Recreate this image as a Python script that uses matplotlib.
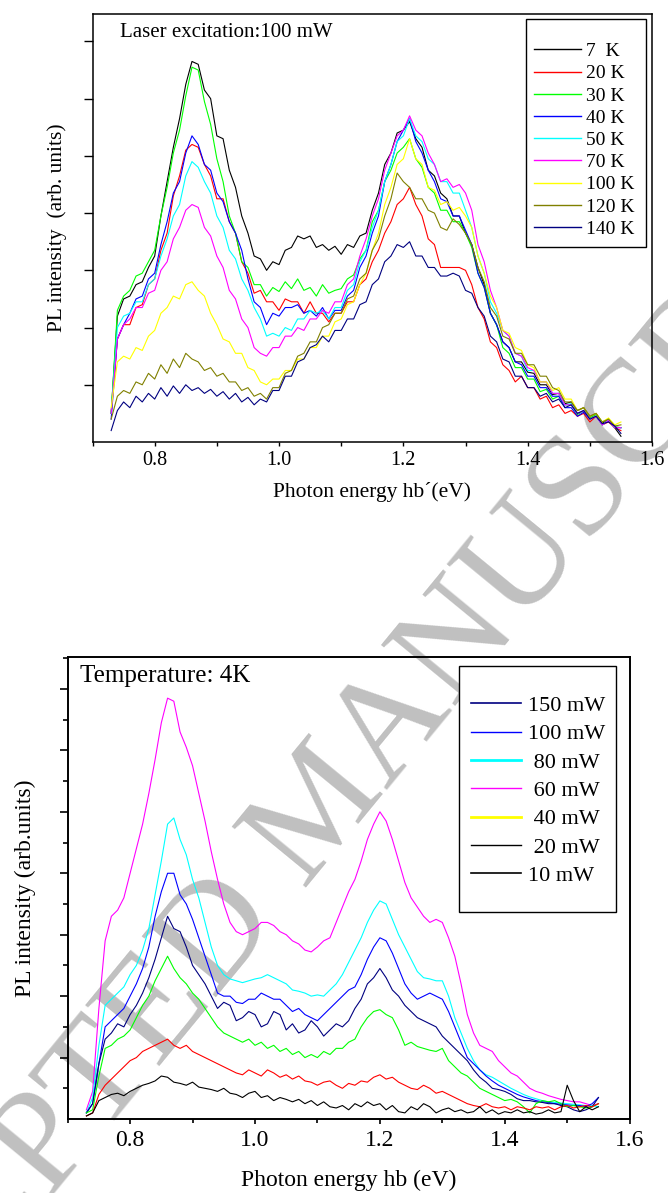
import matplotlib
matplotlib.use('Agg')
import matplotlib.pyplot as plt
from matplotlib.lines import Line2D
from matplotlib.patches import Rectangle

plt.rcParams['font.family'] = 'Liberation Serif'

# photon energy grid (eV)
energy = [0.73, 0.74, 0.75, 0.76, 0.77, 0.78, 0.79, 0.80, 0.81, 0.82,
          0.83, 0.84, 0.85, 0.86, 0.87, 0.88, 0.89, 0.90, 0.91, 0.92,
          0.93, 0.94, 0.95, 0.96, 0.97, 0.98, 0.99, 1.00, 1.01, 1.02,
          1.03, 1.04, 1.05, 1.06, 1.07, 1.08, 1.09, 1.10, 1.11, 1.12,
          1.13, 1.14, 1.15, 1.16, 1.17, 1.18, 1.19, 1.20, 1.21, 1.22,
          1.23, 1.24, 1.25, 1.26, 1.27, 1.28, 1.29, 1.30, 1.31, 1.32,
          1.33, 1.34, 1.35, 1.36, 1.37, 1.38, 1.39, 1.40, 1.41, 1.42,
          1.43, 1.44, 1.45, 1.46, 1.47, 1.48, 1.49, 1.50, 1.51, 1.52,
          1.53, 1.54, 1.55]

# ---- top panel: temperature series at 100 mW ----
temp_labels = ['7  K', '20 K', '30 K', '40 K', '50 K', '70 K', '100 K', '120 K', '140 K']
temp_colors = ['black', '#ff0000', '#00ff00', '#0000ff', '#00ffff', '#ff00ff', '#ffff00', '#808000', '#000080']

pl_7K = [0.5, 2.2, 2.5, 2.55, 2.75, 2.8, 3.05, 3.25, 3.95, 4.55,
         5.15, 5.65, 6.25, 6.65, 6.6, 6.15, 6.0, 5.35, 5.3, 4.75,
         4.45, 3.95, 3.65, 3.25, 3.2, 3.0, 3.15, 3.1, 3.35, 3.4,
         3.6, 3.55, 3.6, 3.4, 3.45, 3.35, 3.42, 3.28, 3.45, 3.4,
         3.6, 3.65, 4.05, 4.35, 4.85, 5.05, 5.4, 5.45, 5.6, 5.3,
         5.15, 4.75, 4.65, 4.35, 4.25, 3.95, 3.95, 3.65, 3.45, 3.05,
         2.75, 2.25, 2.05, 1.75, 1.65, 1.4, 1.4, 1.22, 1.2, 1.0,
         1.0, 0.83, 0.85, 0.67, 0.7, 0.55, 0.6, 0.45, 0.5, 0.33,
         0.4, 0.25, 0.1]
pl_20K = [0.5, 1.8, 2.05, 2.05, 2.35, 2.4, 2.75, 2.85, 3.35, 3.65,
          4.3, 4.65, 5.1, 5.2, 5.15, 4.85, 4.65, 4.25, 4.25, 3.85,
          3.65, 3.15, 2.95, 2.6, 2.65, 2.45, 2.45, 2.3, 2.5, 2.45,
          2.45, 2.25, 2.45, 2.25, 2.25, 2.1, 2.25, 2.25, 2.45, 2.45,
          2.75, 2.85, 3.15, 3.35, 3.65, 3.85, 4.15, 4.25, 4.45, 4.15,
          3.95, 3.55, 3.45, 3.05, 3.05, 3.05, 3.05, 3.0, 2.75, 2.35,
          2.15, 1.75, 1.65, 1.35, 1.25, 1.05, 1.15, 0.95, 0.95, 0.75,
          0.8, 0.6, 0.65, 0.5, 0.55, 0.45, 0.5, 0.35, 0.45, 0.3,
          0.35, 0.25, 0.2]
pl_30K = [0.5, 2.3, 2.55, 2.65, 2.9, 2.95, 3.15, 3.35, 3.95, 4.45,
          5.05, 5.45, 6.05, 6.55, 6.5, 5.95, 5.55, 4.95, 4.55, 3.95,
          3.65, 3.15, 3.05, 2.75, 2.75, 2.55, 2.7, 2.63, 2.8, 2.68,
          2.85, 2.65, 2.7, 2.55, 2.75, 2.6, 2.65, 2.68, 2.85, 2.92,
          3.2, 3.35, 3.85, 4.05, 4.55, 4.75, 5.05, 5.15, 5.3, 4.95,
          4.8, 4.45, 4.35, 4.05, 4.05, 3.85, 3.85, 3.65, 3.4, 2.95,
          2.7, 2.25, 2.05, 1.65, 1.55, 1.3, 1.3, 1.1, 1.1, 0.88,
          0.92, 0.75, 0.8, 0.65, 0.65, 0.48, 0.55, 0.42, 0.48, 0.35,
          0.4, 0.27, 0.25]
pl_40K = [0.4, 1.8, 2.05, 2.25, 2.5, 2.55, 2.85, 2.95, 3.45, 3.85,
          4.35, 4.55, 5.05, 5.35, 5.2, 4.85, 4.75, 4.35, 4.2, 3.85,
          3.65, 3.35, 2.85, 2.45, 2.35, 2.05, 2.25, 2.2, 2.35, 2.35,
          2.4, 2.25, 2.3, 2.2, 2.35, 2.15, 2.3, 2.3, 2.55, 2.65,
          3.05, 3.25, 3.65, 3.95, 4.55, 4.85, 5.25, 5.45, 5.65, 5.25,
          5.05, 4.75, 4.55, 4.25, 4.2, 3.95, 3.95, 3.7, 3.45, 2.95,
          2.7, 2.25, 2.05, 1.75, 1.65, 1.4, 1.35, 1.15, 1.15, 0.95,
          0.95, 0.8, 0.8, 0.6, 0.6, 0.45, 0.52, 0.4, 0.45, 0.3,
          0.37, 0.25, 0.25]
pl_50K = [0.5, 2.0, 2.2, 2.25, 2.45, 2.45, 2.75, 2.85, 3.25, 3.55,
          3.95, 4.15, 4.65, 4.9, 4.8, 4.55, 4.35, 3.95, 3.75, 3.35,
          3.2, 2.85, 2.65, 2.35, 2.15, 1.85, 1.9, 1.85, 2.0, 1.95,
          2.15, 2.15, 2.3, 2.25, 2.3, 2.15, 2.35, 2.35, 2.65, 2.75,
          3.15, 3.35, 3.75, 4.05, 4.55, 4.85, 5.25, 5.35, 5.65, 5.35,
          5.25, 4.95, 4.85, 4.55, 4.55, 4.35, 4.35, 4.05, 3.75, 3.25,
          2.95, 2.45, 2.25, 1.95, 1.85, 1.55, 1.5, 1.25, 1.25, 1.05,
          1.05, 0.85, 0.85, 0.65, 0.67, 0.5, 0.55, 0.4, 0.45, 0.3,
          0.38, 0.26, 0.25]
pl_70K = [0.5, 1.8, 2.05, 2.15, 2.35, 2.35, 2.6, 2.65, 3.0, 3.15,
          3.55, 3.75, 4.05, 4.15, 4.1, 3.75, 3.6, 3.25, 3.05, 2.65,
          2.5, 2.15, 2.0, 1.65, 1.55, 1.5, 1.65, 1.65, 1.85, 1.85,
          2.0, 1.95, 2.15, 2.15, 2.3, 2.25, 2.45, 2.45, 2.75, 2.85,
          3.25, 3.55, 3.95, 4.25, 4.75, 5.05, 5.35, 5.45, 5.7, 5.45,
          5.35, 5.05, 4.85, 4.55, 4.6, 4.45, 4.5, 4.35, 4.05, 3.45,
          3.15, 2.65, 2.35, 1.95, 1.85, 1.55, 1.5, 1.3, 1.25, 1.05,
          1.05, 0.85, 0.85, 0.65, 0.65, 0.5, 0.55, 0.4, 0.45, 0.3,
          0.38, 0.26, 0.25]
pl_100K = [0.6, 1.4, 1.5, 1.45, 1.65, 1.6, 1.85, 1.95, 2.25, 2.35,
           2.55, 2.5, 2.75, 2.8, 2.65, 2.55, 2.25, 2.05, 1.8, 1.75,
           1.55, 1.55, 1.3, 1.25, 1.05, 1.0, 1.1, 1.1, 1.25, 1.25,
           1.45, 1.45, 1.65, 1.65, 1.85, 1.85, 2.1, 2.15, 2.4, 2.45,
           2.75, 2.95, 3.35, 3.65, 4.15, 4.45, 4.85, 4.95, 5.3, 4.95,
           4.85, 4.45, 4.4, 4.15, 4.2, 4.05, 4.1, 3.95, 3.75, 3.25,
           2.95, 2.55, 2.35, 1.95, 1.9, 1.65, 1.6, 1.35, 1.3, 1.05,
           1.05, 0.9, 0.95, 0.75, 0.75, 0.55, 0.6, 0.45, 0.5, 0.35,
           0.42, 0.3, 0.35]
pl_120K = [0.4, 0.8, 0.9, 0.85, 1.05, 1.0, 1.2, 1.1, 1.35, 1.2,
           1.45, 1.3, 1.55, 1.45, 1.4, 1.25, 1.3, 1.15, 1.2, 1.05,
           1.05, 0.9, 0.95, 0.8, 0.85, 0.75, 0.95, 0.95, 1.2, 1.25,
           1.5, 1.55, 1.75, 1.75, 2.0, 2.05, 2.25, 2.25, 2.5, 2.55,
           2.85, 2.95, 3.35, 3.55, 3.95, 4.25, 4.7, 4.55, 4.45, 4.25,
           4.25, 4.05, 4.0, 3.75, 3.7, 3.9, 3.8, 3.65, 3.45, 3.05,
           2.8, 2.35, 2.2, 1.85, 1.8, 1.55, 1.55, 1.35, 1.35, 1.15,
           1.15, 0.95, 0.9, 0.7, 0.7, 0.55, 0.6, 0.45, 0.5, 0.35,
           0.4, 0.28, 0.3]
pl_140K = [0.2, 0.55, 0.7, 0.6, 0.8, 0.7, 0.85, 0.75, 0.95, 0.8,
           0.98, 0.85, 1.0, 0.9, 0.95, 0.85, 0.92, 0.8, 0.88, 0.75,
           0.85, 0.7, 0.78, 0.65, 0.75, 0.7, 0.9, 0.9, 1.15, 1.15,
           1.4, 1.45, 1.65, 1.7, 1.85, 1.75, 1.95, 1.95, 2.15, 2.15,
           2.4, 2.45, 2.75, 2.85, 3.15, 3.25, 3.45, 3.4, 3.5, 3.25,
           3.25, 3.05, 3.05, 2.9, 2.9, 2.95, 2.9, 2.65, 2.6, 2.35,
           2.2, 1.85, 1.75, 1.45, 1.4, 1.15, 1.15, 0.95, 0.95, 0.8,
           0.85, 0.7, 0.75, 0.6, 0.65, 0.5, 0.55, 0.4, 0.45, 0.32,
           0.35, 0.28, 0.15]
temp_series = [pl_7K, pl_20K, pl_30K, pl_40K, pl_50K, pl_70K, pl_100K, pl_120K, pl_140K]

# ---- bottom panel: excitation power series at 4 K ----
pl_60mW = [0.15, 0.45, 1.8, 2.9, 3.3, 3.4, 3.6, 4.0, 4.4, 4.8,
           5.3, 5.85, 6.45, 6.85, 6.8, 6.3, 6.05, 5.75, 5.3, 4.85,
           4.35, 3.9, 3.5, 3.2, 3.05, 3.0, 3.05, 3.1, 3.2, 3.2,
           3.15, 3.05, 3.0, 2.9, 2.85, 2.75, 2.72, 2.8, 2.9, 2.95,
           3.2, 3.45, 3.7, 3.9, 4.2, 4.55, 4.8, 5.0, 4.85, 4.55,
           4.2, 3.85, 3.6, 3.45, 3.3, 3.2, 3.25, 3.2, 2.95, 2.65,
           2.2, 1.7, 1.4, 1.2, 1.15, 1.1, 0.95, 0.85, 0.75, 0.7,
           0.6, 0.5, 0.45, 0.42, 0.38, 0.35, 0.32, 0.3, 0.28, 0.28,
           0.25, 0.22, 0.25]
pl_80mW = [0.1, 0.35, 1.2, 1.85, 1.95, 2.05, 2.15, 2.35, 2.5, 2.75,
           3.1, 3.65, 4.2, 4.8, 4.9, 4.55, 4.3, 3.9, 3.6, 3.2,
           2.8, 2.5, 2.35, 2.28, 2.25, 2.22, 2.25, 2.28, 2.3, 2.35,
           2.3, 2.25, 2.2, 2.1, 2.08, 2.05, 2.0, 2.02, 2.0, 2.1,
           2.2, 2.35, 2.55, 2.75, 2.95, 3.2, 3.4, 3.55, 3.5, 3.25,
           3.0, 2.8, 2.6, 2.4, 2.3, 2.28, 2.25, 2.25, 2.0, 1.65,
           1.4, 1.15, 0.95, 0.8, 0.72, 0.68, 0.62, 0.56, 0.5, 0.45,
           0.4, 0.36, 0.33, 0.3, 0.28, 0.27, 0.26, 0.25, 0.24, 0.23,
           0.22, 0.22, 0.2]
pl_100mW = [0.1, 0.25, 0.9, 1.5, 1.6, 1.7, 1.8, 2.0, 2.2, 2.45,
            2.8, 3.3, 3.7, 4.0, 4.0, 3.65, 3.5, 3.25, 2.95, 2.65,
            2.35, 2.05, 2.0, 2.0, 1.9, 1.88, 1.95, 1.95, 2.05, 2.0,
            1.95, 1.95, 1.85, 1.75, 1.8, 1.7, 1.65, 1.6, 1.7, 1.8,
            1.9, 2.0, 2.1, 2.15, 2.35, 2.6, 2.8, 2.95, 2.9, 2.7,
            2.45, 2.2, 2.05, 1.95, 2.0, 2.05, 2.0, 1.95, 1.75, 1.5,
            1.25, 1.0, 0.9, 0.8, 0.7, 0.62, 0.55, 0.5, 0.45, 0.4,
            0.36, 0.33, 0.3, 0.28, 0.27, 0.25, 0.24, 0.23, 0.22, 0.22,
            0.2, 0.25, 0.35]
pl_150mW = [0.1, 0.25, 0.9, 1.3, 1.4, 1.55, 1.5, 1.7, 1.85, 2.05,
            2.3, 2.6, 2.95, 3.3, 3.1, 3.05, 2.8, 2.5, 2.35, 2.2,
            2.0, 1.8, 1.9, 1.85, 1.6, 1.65, 1.75, 1.7, 1.5, 1.55,
            1.75, 1.7, 1.45, 1.55, 1.4, 1.45, 1.6, 1.5, 1.35, 1.45,
            1.55, 1.5, 1.6, 1.8, 1.95, 2.2, 2.3, 2.45, 2.3, 2.1,
            2.0, 1.85, 1.75, 1.65, 1.6, 1.55, 1.5, 1.35, 1.25, 1.15,
            1.05, 0.95, 0.8, 0.68, 0.6, 0.5, 0.48, 0.45, 0.4, 0.33,
            0.3, 0.3, 0.28, 0.27, 0.25, 0.25, 0.22, 0.2, 0.15, 0.12,
            0.15, 0.2, 0.35]
pl_40mW = [0.1, 0.15, 0.7, 1.15, 1.2, 1.3, 1.35, 1.45, 1.65, 1.85,
           2.0, 2.25, 2.45, 2.65, 2.45, 2.3, 2.2, 2.05, 1.95, 1.8,
           1.65, 1.5, 1.4, 1.35, 1.3, 1.25, 1.3, 1.2, 1.25, 1.15,
           1.2, 1.1, 1.15, 1.05, 1.1, 1.0, 1.05, 1.0, 1.1, 1.05,
           1.15, 1.15, 1.25, 1.3, 1.5, 1.65, 1.75, 1.78, 1.7, 1.65,
           1.45, 1.2, 1.25, 1.18, 1.15, 1.12, 1.1, 1.15, 0.95, 0.85,
           0.75, 0.7, 0.6, 0.5, 0.45, 0.4, 0.35, 0.3, 0.32, 0.28,
           0.2, 0.1, 0.25, 0.3, 0.28, 0.3, 0.25, 0.2, 0.22, 0.2,
           0.18, 0.2, 0.25]
pl_20mW = [0.05, 0.1, 0.4, 0.55, 0.65, 0.75, 0.85, 0.95, 1.0, 1.1,
           1.15, 1.2, 1.25, 1.3, 1.2, 1.15, 1.2, 1.1, 1.05, 1.0,
           0.95, 0.9, 0.85, 0.8, 0.75, 0.72, 0.8, 0.75, 0.7, 0.8,
           0.75, 0.68, 0.72, 0.65, 0.7, 0.62, 0.6, 0.55, 0.6, 0.62,
           0.55, 0.5, 0.58, 0.55, 0.62, 0.6, 0.68, 0.72, 0.65, 0.68,
           0.6, 0.55, 0.5, 0.48, 0.55, 0.5, 0.42, 0.45, 0.4, 0.35,
           0.3, 0.25, 0.22, 0.2, 0.25, 0.2, 0.18, 0.2, 0.15, 0.2,
           0.18, 0.15, 0.2, 0.18, 0.2, 0.15, 0.2, 0.22, 0.18, 0.2,
           0.22, 0.2, 0.25]
pl_10mW = [0.05, 0.1, 0.3, 0.35, 0.4, 0.42, 0.38, 0.45, 0.5, 0.55,
           0.58, 0.62, 0.7, 0.68, 0.6, 0.58, 0.55, 0.6, 0.52, 0.5,
           0.48, 0.45, 0.5, 0.42, 0.4, 0.35, 0.42, 0.45, 0.35, 0.38,
           0.3, 0.35, 0.32, 0.28, 0.32, 0.25, 0.3, 0.22, 0.28, 0.2,
           0.18, 0.22, 0.15, 0.25, 0.2, 0.28, 0.22, 0.25, 0.15, 0.22,
           0.12, 0.1, 0.2, 0.15, 0.25, 0.2, 0.1, 0.15, 0.18, 0.12,
           0.15, 0.1, 0.12, 0.2, 0.1, 0.15, 0.08, 0.12, 0.1, 0.15,
           0.1, 0.12, 0.08, 0.1, 0.15, 0.1, 0.12, 0.55, 0.3, 0.12,
           0.2, 0.15, 0.2]
power_series = [pl_60mW, pl_80mW, pl_100mW, pl_150mW, pl_40mW, pl_20mW, pl_10mW]
power_colors = ['#ff00ff', '#00ffff', '#0000ff', '#000080', '#00ff00', '#ff0000', 'black']

# legend entries of the bottom panel as printed in the original figure
power_labels = ['150 mW', '100 mW', ' 80 mW', ' 60 mW', ' 40 mW', ' 20 mW', '10 mW']
power_legend_colors = ['#000080', '#0000ff', '#00ffff', '#ff00ff', '#ffff00', 'black', 'black']
power_legend_widths = [1.2, 1.0, 2.0, 1.0, 2.0, 1.0, 1.2]

fig = plt.figure(figsize=(6.68, 11.93), dpi=100)

# watermark behind the plots
fig.text(0.485, 0.321, 'ACCEPTED MANUSCRIPT', rotation=50.6, ha='center', va='center',
         rotation_mode='anchor', fontsize=105, color='#c0c0c0', zorder=-10)

# ---------- top panel ----------
ax1 = fig.add_axes([0.1385, 0.6295, 0.8376, 0.3588])
ax1.patch.set_alpha(0)
for y, c in zip(temp_series, temp_colors):
    ax1.plot(energy, y, color=c, lw=0.8)
ax1.set_xlim(0.7, 1.6)
ax1.set_ylim(0, 7.48)
ax1.set_xticks([0.8, 1.0, 1.2, 1.4, 1.6])
ax1.set_xticklabels(['0.8', '1.0', '1.2', '1.4', '1.6'])
ax1.set_xticks([0.7, 0.9, 1.1, 1.3, 1.5], minor=True)
ax1.set_yticks([1, 2, 3, 4, 5, 6, 7])
ax1.set_yticklabels([])
ax1.tick_params(axis='x', which='both', direction='out', length=3.2, width=1, labelsize=14.5, pad=3)
ax1.tick_params(axis='y', direction='out', length=6.5, width=1)
for s in ax1.spines.values():
    s.set_linewidth(1.1)
ax1.set_xlabel('Photon energy hb\u00b4(eV)', fontsize=15.5, va='center')
ax1.xaxis.set_label_coords(0.5, -0.117)
ax1.set_ylabel('PL intensity  (arb. units)', fontsize=15.5, va='center')
ax1.yaxis.set_label_coords(-0.0635, 0.5)
ax1.text(0.049, 0.9456, 'Laser excitation:100 mW', transform=ax1.transAxes,
         fontsize=15, va='baseline', ha='left')

ax1.add_patch(Rectangle((0.7748, 0.4563), 0.2145, 0.5313, transform=ax1.transAxes,
                        fc='white', ec='black', lw=1.0, zorder=4))
handles1 = [Line2D([], [], color=c, lw=1.0) for c in temp_colors]
leg1 = ax1.legend(handles1, temp_labels, loc='upper left', bbox_to_anchor=(0.789, 0.933),
                  frameon=False, fontsize=14, borderpad=0, borderaxespad=0,
                  handlelength=2.4, handletextpad=0.3, labelspacing=0.235)
leg1.set_zorder(5)

# ---------- bottom panel ----------
ax2 = fig.add_axes([0.1013, 0.0620, 0.8413, 0.3873])
ax2.patch.set_alpha(0)
for y, c in zip(power_series, power_colors):
    ax2.plot(energy, y, color=c, lw=0.8)
ax2.set_xlim(0.7, 1.6)
ax2.set_ylim(0, 7.52)
ax2.set_xticks([0.8, 1.0, 1.2, 1.4, 1.6])
ax2.set_xticklabels(['0.8', '1.0', '1.2', '1.4', '1.6'])
ax2.set_xticks([0.7, 0.9, 1.1, 1.3, 1.5], minor=True)
ax2.set_yticks([1, 2, 3, 4, 5, 6, 7])
ax2.set_yticks([0.5, 1.5, 2.5, 3.5, 4.5, 5.5, 6.5, 7.5], minor=True)
ax2.set_yticklabels([])
ax2.tick_params(axis='x', which='major', direction='out', length=3.8, width=1.2, labelsize=17, pad=4)
ax2.tick_params(axis='x', which='minor', direction='out', length=2.8, width=1.2)
ax2.tick_params(axis='y', which='major', direction='out', length=6, width=1.2)
ax2.tick_params(axis='y', which='minor', direction='out', length=3.6, width=1.2)
for s in ax2.spines.values():
    s.set_linewidth(1.4)
ax2.set_xlabel('Photon energy hb (eV)', fontsize=17, va='center')
ax2.xaxis.set_label_coords(0.5, -0.132)
ax2.set_ylabel('PL intensity (arb.units)', fontsize=17, va='center')
ax2.yaxis.set_label_coords(-0.076, 0.5)
ax2.text(0.0219, 0.9465, 'Temperature: 4K', transform=ax2.transAxes,
         fontsize=18, va='baseline', ha='left')

ax2.add_patch(Rectangle((0.6963, 0.448), 0.2788, 0.5332, transform=ax2.transAxes,
                        fc='white', ec='black', lw=1.0, zorder=4))
handles2 = [Line2D([], [], color=c, lw=w) for c, w in zip(power_legend_colors, power_legend_widths)]
leg2 = ax2.legend(handles2, power_labels, loc='upper left', bbox_to_anchor=(0.7171, 0.9165),
                  frameon=False, fontsize=16, borderpad=0, borderaxespad=0,
                  handlelength=2.25, handletextpad=0.31, labelspacing=0.35)
leg2.set_zorder(5)

fig.savefig('out.png', dpi=100)
